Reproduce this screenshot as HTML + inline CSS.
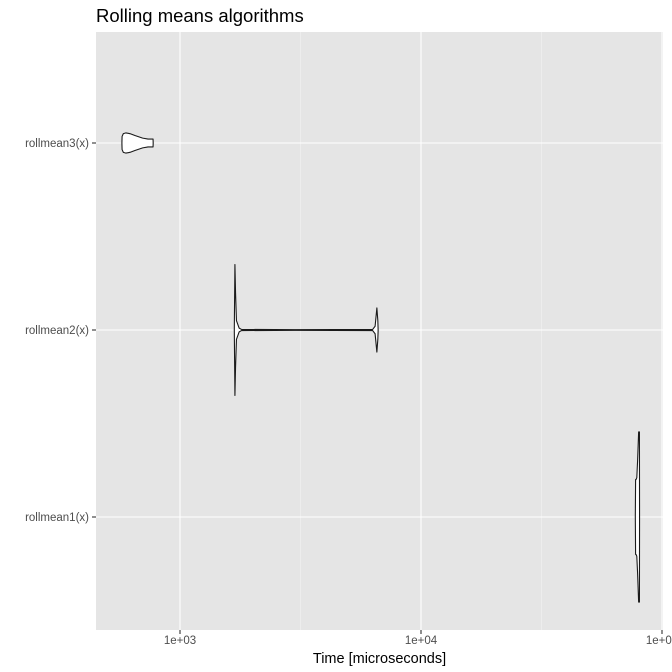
<!DOCTYPE html>
<html><head><meta charset="utf-8"><style>body{margin:0;background:#fff}svg{display:block;font-family:"Liberation Sans",sans-serif}</style></head>
<body>
<svg id="chart" width="672" height="672"></svg>
<script>
const categories = ["rollmean1(x)", "rollmean2(x)", "rollmean3(x)"];
const xTickValues = [1000, 10000, 100000];
const xTickLabels = ["1e+03", "1e+04", "1e+05"];
const violin1 = [[77500,0],[77700,0.2],[78000,0.2],[78600,0.21],[79200,0.3],[80000,0.455],[80600,0.455],[80700,0]];
const violin2 = [[1680,0],[1690,0.35],[1700,0.2],[1715,0.05],[1760,0.01],[1800,0.003],[3000,0.002],[6300,0.003],[6450,0.02],[6560,0.118],[6620,0.05],[6640,0]];
const violin3 = [[574,0],[575,0.035],[582,0.05],[597,0.054],[620,0.05],[650,0.04],[700,0.026],[737,0.021],[760,0.021],[773,0.021],[774,0]];
const violins = [violin1, violin2, violin3];

const NS = "http://www.w3.org/2000/svg";
const svg = document.getElementById("chart");
const L = 96, R = 663, T = 32, B = 630;
const x = v => 180 + (Math.log10(v) - 3) * 241;
const yPos = i => 517 - i * 187;
const band = 187;
function mk(tag, attrs, parent) {
  const e = document.createElementNS(NS, tag);
  for (const k in attrs) e.setAttribute(k, attrs[k]);
  (parent || svg).appendChild(e);
  return e;
}
const panel = mk("rect", {x: L, y: T, width: R - L, height: B - T, fill: "#e5e5e5"});


for (let i = 0; i < xTickValues.length - 1; i++) {
  const xv = x(Math.sqrt(xTickValues[i] * xTickValues[i + 1]));
  const g = mk("line", {x1: xv, x2: xv, y1: T, y2: B, stroke: "#f2f2f2", "stroke-width": 0.6});
  
  
}
xTickValues.forEach((v, i) => {
  const xv = x(v);
  const g = mk("line", {x1: xv, x2: xv, y1: T, y2: B, stroke: "#fff", "stroke-width": 1.1});
  
  
  const t = mk("line", {x1: xv, x2: xv, y1: B, y2: B + 4, stroke: "#333", "stroke-width": 1.1});
  
  
  const lb = mk("text", {x: xv, y: B + 14, "text-anchor": "middle", "font-size": 11.5, fill: "#4d4d4d"});
  lb.textContent = xTickLabels[i];
  
  
});
categories.forEach((c, i) => {
  const yv = yPos(i);
  const g = mk("line", {x1: L, x2: R, y1: yv, y2: yv, stroke: "#fff", "stroke-width": 1.1});
  
  
  const t = mk("line", {x1: L - 4, x2: L, y1: yv, y2: yv, stroke: "#333", "stroke-width": 1.1});
  
  
  const lb = mk("text", {x: L - 7, y: yv + 4, "text-anchor": "end", "font-size": 11.5, fill: "#4d4d4d"});
  lb.textContent = c;
  
  
});
const clip = mk("clipPath", {id: "pc"});
mk("rect", {x: L, y: T, width: R - L, height: B - T}, clip);
violins.forEach((pts, i) => {
  const yc = yPos(i);
  const top = pts.map(p => [x(p[0]), yc - p[1] * band]);
  const bot = pts.slice().reverse().map(p => [x(p[0]), yc + p[1] * band]);
  const d = "M" + top.concat(bot).map(p => p[0].toFixed(2) + "," + p[1].toFixed(2)).join("L") + "Z";
  const path = mk("path", {d: d, fill: "#fff", stroke: "#1a1a1a", "stroke-width": 1.1, "stroke-linejoin": "round", "clip-path": "url(#pc)"});
  
  
});
const title = mk("text", {x: 96, y: 22, "font-size": 18.5, fill: "#000"});
title.textContent = "Rolling means algorithms";


const xt = mk("text", {x: (L + R) / 2, y: 663, "text-anchor": "middle", "font-size": 14.5, fill: "#000"});
xt.textContent = "Time [microseconds]";


</script>
</body></html>
